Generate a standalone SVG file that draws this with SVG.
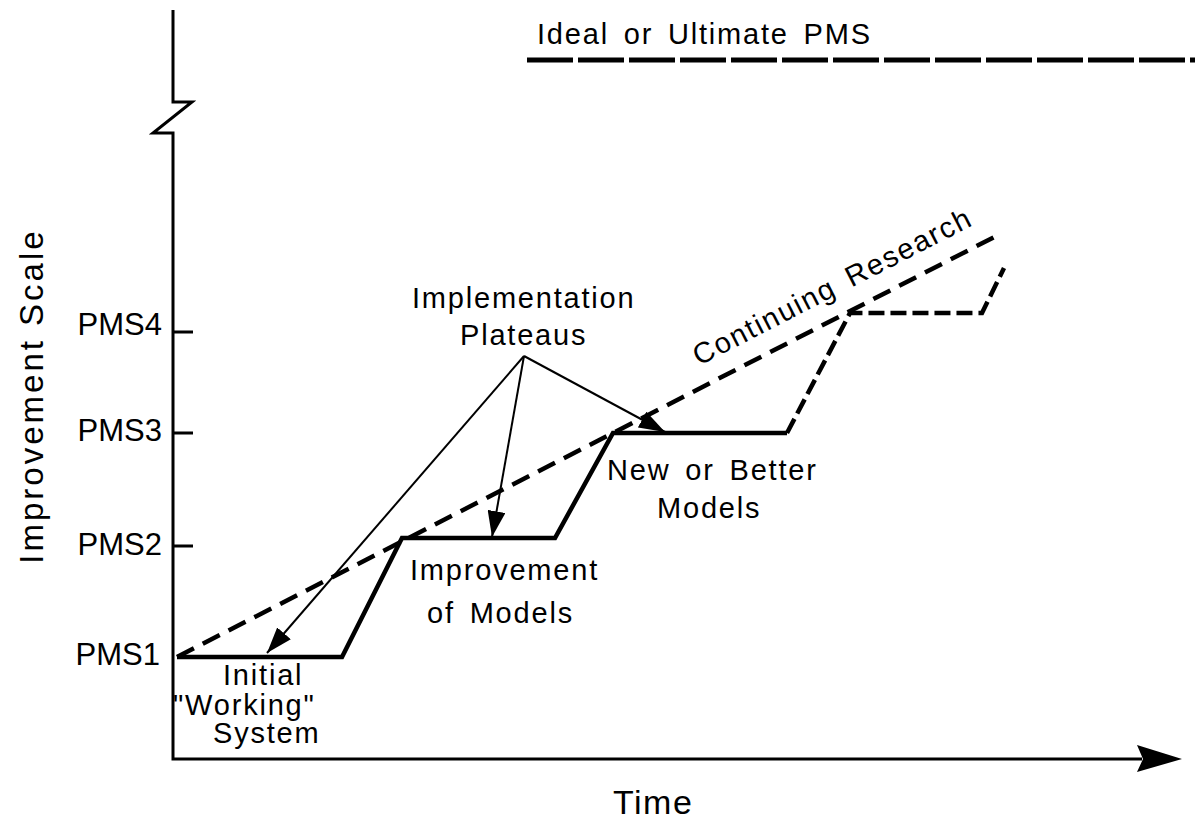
<svg xmlns="http://www.w3.org/2000/svg" width="1195" height="824" viewBox="0 0 1195 824">
<style>
  text { font-family: "Liberation Sans", Arial, Helvetica, sans-serif; fill: #000; }
  .lbl { font-size: 29px; letter-spacing: 1.8px; word-spacing: 5px; }
  .pms { font-size: 31px; text-anchor: end; }
  .axis { fill: none; stroke: #000; stroke-width: 3; stroke-linejoin: miter; }
  .thick { fill: none; stroke: #000; stroke-width: 4.5; stroke-linejoin: miter; }
  .dash1 { fill: none; stroke: #000; stroke-width: 4.5; stroke-dasharray: 19 10; }
  .dash2 { fill: none; stroke: #000; stroke-width: 4.5; stroke-dasharray: 16 6; stroke-linejoin: miter; }
  .dash3 { fill: none; stroke: #000; stroke-width: 5; stroke-dasharray: 46 5; }
  .thin { fill: none; stroke: #000; stroke-width: 2; }
</style>
<defs>
  <marker id="ah" markerUnits="userSpaceOnUse" viewBox="0 0 26 18" refX="26" refY="9" markerWidth="26" markerHeight="18" orient="auto">
    <path d="M0,0 L26,9 L0,18 Z" fill="#000"/>
  </marker>
</defs>
<rect width="1195" height="824" fill="#fff"/>

<g id="axes">
  <path class="axis" d="M173,10 L173,102 L192,102 L153,133 L173,133 L173,759 L1142,759"/>
  <polygon points="1182,759 1137,745 1143,759 1137,772" fill="#000"/>
  <path class="axis" d="M173,332 L193,332 M173,433 L193,433 M173,546 L193,546"/>
</g>

<g id="axis-labels">
  <text class="pms" x="162" y="335">PMS4</text>
  <text class="pms" x="162" y="441">PMS3</text>
  <text class="pms" x="162" y="555">PMS2</text>
  <text class="pms" x="160" y="665">PMS1</text>
  <text transform="translate(43,396) rotate(-90)" text-anchor="middle" style="font-size:33px;letter-spacing:3px">Improvement Scale</text>
  <text x="613" y="814" style="font-size:34px;letter-spacing:1.5px">Time</text>
</g>

<g id="curves">
  <path class="thick" d="M177,657 L342,657 L402,538 L555,538 L613,433 L787,433"/>
  <path class="dash2" d="M787,433 L850,313 L982,313 L1004,268"/>
  <path class="dash1" d="M177,657 L1002,233"/>
  <path class="dash3" d="M527,60 L1195,60"/>
</g>

<g id="connectors">
  <line class="thin" x1="524" y1="356" x2="267" y2="653" marker-end="url(#ah)"/>
  <line class="thin" x1="524" y1="356" x2="492" y2="537" marker-end="url(#ah)"/>
  <line class="thin" x1="524" y1="356" x2="665" y2="432" marker-end="url(#ah)"/>
</g>

<g id="node-ideal">
  <text class="lbl" x="537" y="44">Ideal or Ultimate PMS</text>
</g>
<g id="node-research">
  <text class="lbl" transform="translate(699,366) rotate(-27.2)">Continuing Research</text>
</g>
<g id="node-plateaus">
  <text class="lbl" x="412" y="308">Implementation</text>
  <text class="lbl" x="460" y="345">Plateaus</text>
</g>
<g id="node-initial">
  <text class="lbl" x="223" y="685">Initial</text>
  <text class="lbl" x="173" y="715">"Working"</text>
  <text class="lbl" x="213" y="743">System</text>
</g>
<g id="node-improvement">
  <text class="lbl" x="410" y="580">Improvement</text>
  <text class="lbl" x="427" y="623">of Models</text>
</g>
<g id="node-new">
  <text class="lbl" x="607" y="480">New or Better</text>
  <text class="lbl" x="657" y="518">Models</text>
</g>
</svg>
